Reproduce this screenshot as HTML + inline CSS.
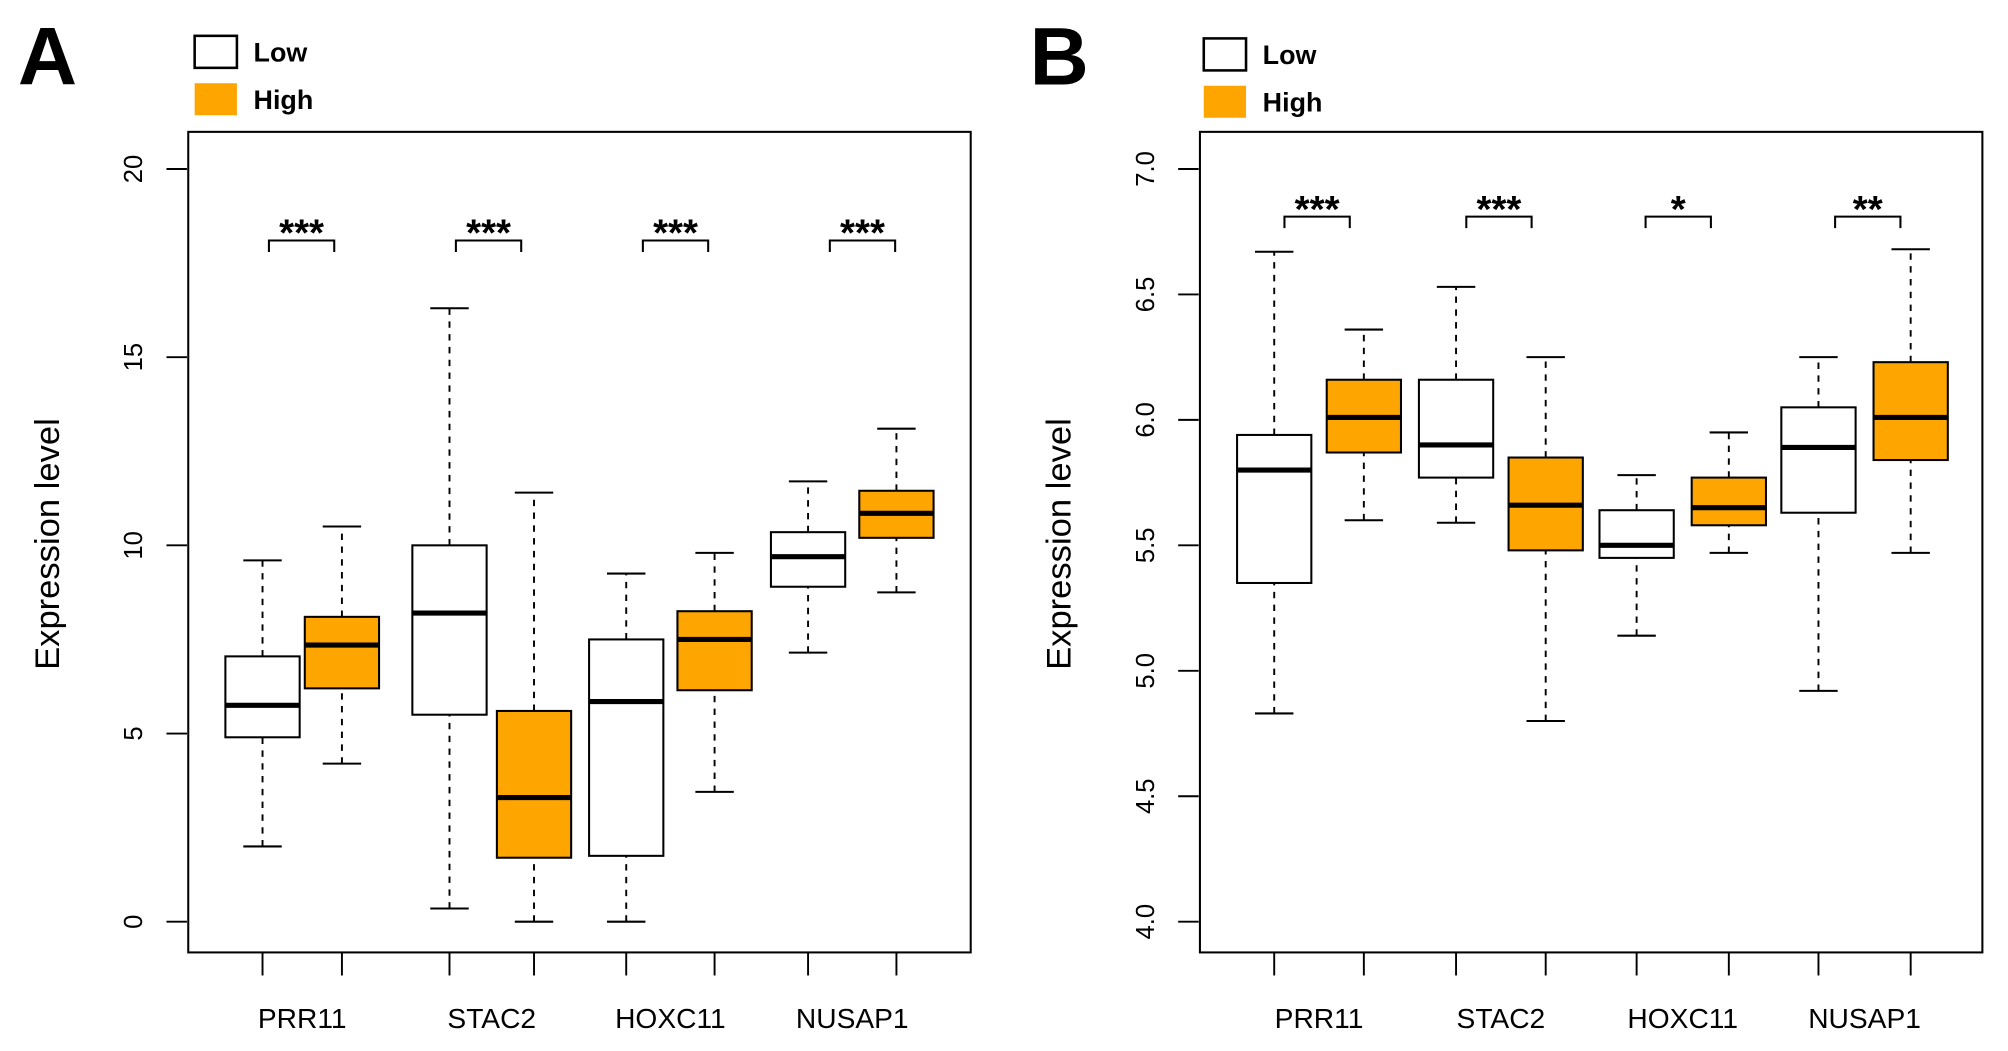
<!DOCTYPE html>
<html><head><meta charset="utf-8"><style>
html,body{margin:0;padding:0;background:#fff;}
svg{display:block;font-family:"Liberation Sans",Arial,sans-serif;}
</style></head><body>
<svg id="fig" width="2008" height="1051" viewBox="0 0 1568 821" preserveAspectRatio="none" xmlns="http://www.w3.org/2000/svg"></svg>
<script>
const categories = ["PRR11","STAC2","HOXC11","NUSAP1"];
// [min, q1, median, q3, max]
const aLow  = [[2.0,4.9,5.75,7.05,9.6],[0.35,5.5,8.2,10.0,16.3],[0,1.75,5.85,7.5,9.25],[7.15,8.9,9.7,10.35,11.7]];
const aHigh = [[4.2,6.2,7.35,8.1,10.5],[0,1.7,3.3,5.6,11.4],[3.45,6.15,7.5,8.25,9.8],[8.75,10.2,10.85,11.45,13.1]];
const aSig  = ["***","***","***","***"];
const aTicks = [0,5,10,15,20];
const bLow  = [[4.83,5.35,5.8,5.94,6.67],[5.59,5.77,5.9,6.16,6.53],[5.14,5.45,5.5,5.64,5.78],[4.92,5.63,5.89,6.05,6.25]];
const bHigh = [[5.6,5.87,6.01,6.16,6.36],[4.8,5.48,5.66,5.85,6.25],[5.47,5.58,5.65,5.77,5.95],[5.47,5.84,6.01,6.23,6.68]];
const bSig  = ["***","***","*","**"];
const bTicks = [4.0,4.5,5.0,5.5,6.0,6.5,7.0];

const NS="http://www.w3.org/2000/svg";
const svg=document.getElementById('fig');
function mk(tag,attrs,parent){const e=document.createElementNS(NS,tag);for(const k in attrs)e.setAttribute(k,attrs[k]);(parent||svg).appendChild(e);return e;}

function panel(cfg){
  const g=mk('g',{});
  
  
  const y=v=>cfg.y0px+(v-cfg.vmin)/(cfg.vmax-cfg.vmin)*(cfg.y1px-cfg.y0px);
  const L=mk('text',{x:cfg.letterX,y:66,'font-size':64,'font-weight':'bold'},g);L.textContent=cfg.letter;
  
  
  const lg=mk('g',{},g);
  
  
  [["Low","#fff"],["High","#FFA500"]].forEach((d,i)=>{
    const yy=cfg.legY+i*37;
    const r=mk('rect',{x:cfg.legX,y:yy,width:33,height:25,fill:d[1],stroke:i?'none':'#000','stroke-width':2},lg);
    
    
    const t=mk('text',{x:cfg.legX+46,y:yy+20,'font-size':21,'font-weight':'bold'},lg);t.textContent=d[0];
    
    
  });
  const fr=mk('rect',{x:cfg.bx0,y:103,width:cfg.bx1-cfg.bx0,height:641,fill:'none',stroke:'#000','stroke-width':1.6},g);
  
  
  const ya=mk('g',{},g);
  
  
  cfg.ticks.forEach(t=>{
    const yy=y(t);
    mk('line',{x1:cfg.bx0-17,x2:cfg.bx0-1,y1:yy,y2:yy,stroke:'#000','stroke-width':1.5},ya);
    const tx=mk('text',{x:0,y:0,'font-size':20,'text-anchor':'middle',transform:`translate(${cfg.bx0-36},${yy}) rotate(-90)`},ya);
    tx.textContent=cfg.fmt(t);
    
    
  });
  const yt=mk('text',{x:0,y:0,'font-size':27,'text-anchor':'middle',transform:`translate(${cfg.bx0-101},425) rotate(-90)`},g);
  yt.textContent='Expression level';
  
  
  categories.forEach((c,i)=>{
    const xl=cfg.xs[i][0], xh=cfg.xs[i][1];
    [[cfg.low[i],xl,'#fff','low'],[cfg.high[i],xh,'#FFA500','high']].forEach(([d,x,fill,nm])=>{
      const bg=mk('g',{},g);
      
      
      const w=58;
      mk('line',{x1:x,x2:x,y1:y(d[0]),y2:y(d[1]),stroke:'#000','stroke-width':1.5,'stroke-dasharray':'5,5'},bg);
      mk('line',{x1:x,x2:x,y1:y(d[3]),y2:y(d[4]),stroke:'#000','stroke-width':1.5,'stroke-dasharray':'5,5'},bg);
      mk('line',{x1:x-15,x2:x+15,y1:y(d[0]),y2:y(d[0]),stroke:'#000','stroke-width':1.6},bg);
      mk('line',{x1:x-15,x2:x+15,y1:y(d[4]),y2:y(d[4]),stroke:'#000','stroke-width':1.6},bg);
      mk('rect',{x:x-w/2,y:y(d[3]),width:w,height:y(d[1])-y(d[3]),fill:fill,stroke:'#000','stroke-width':1.6},bg);
      mk('line',{x1:x-w/2,x2:x+w/2,y1:y(d[2]),y2:y(d[2]),stroke:'#000','stroke-width':4},bg);
      mk('line',{x1:x,x2:x,y1:744,y2:762,stroke:'#000','stroke-width':1.5},bg);
    });
    const lab=mk('text',{x:(xl+xh)/2,y:803,'font-size':22,'text-anchor':'middle'},g);lab.textContent=c;
    
    
    const sg=mk('g',{},g);
    
    
    const x0=cfg.sigX[i], by=y(cfg.sigV);
    mk('path',{d:`M${x0},${by+9}V${by}H${x0+51}V${by+9}`,fill:'none',stroke:'#000','stroke-width':1.6},sg);
    const st=mk('text',{x:x0+25.5,y:by+4,'font-size':30,'font-weight':'bold','text-anchor':'middle'},sg);st.textContent=cfg.sig[i];
  });
}
panel({name:'panel-a',letter:'A',letterX:14,legX:152,legY:28,bx0:147,bx1:758,y0px:720,y1px:132,vmin:0,vmax:20,ticks:aTicks,fmt:t=>String(t),
  xs:[[205,267],[351,417],[489,558],[631,700]],low:aLow,high:aHigh,sig:aSig,sigX:[210,356,502,648],sigV:18.1});
panel({name:'panel-b',letter:'B',letterX:804,legX:940,legY:30,bx0:937,bx1:1548,y0px:720,y1px:132,vmin:4,vmax:7,ticks:bTicks,fmt:t=>t.toFixed(1),
  xs:[[995,1065],[1137,1207],[1278,1350],[1420,1492]],low:bLow,high:bHigh,sig:bSig,sigX:[1003,1145,1285,1433],sigV:6.81});
</script>
</body></html>
